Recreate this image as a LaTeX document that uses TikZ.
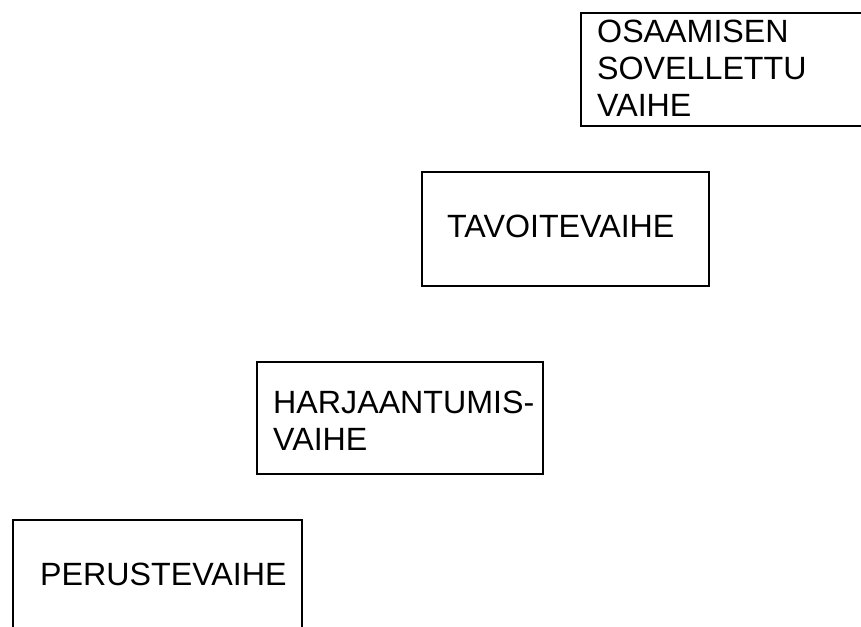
\documentclass[tikz,border=0pt]{standalone}
\usepackage{fontspec}
\setmainfont{Liberation Sans}
\begin{document}
\begin{tikzpicture}[x=1pt,y=-1pt,
  stagebox/.style={draw=black,line width=2.6pt},
  stagetext/.style={anchor=base west,inner sep=0pt,align=left,
    font=\fontsize{32.2}{37}\selectfont}]
\useasboundingbox (0,0) rectangle (861,626);
\clip (0,0) rectangle (861,626);
% stage boxes, rising from bottom left to top right
\draw[stagebox] (581,13) rectangle (880,126);
\draw[stagebox] (422,172) rectangle (709,286);
\draw[stagebox] (257,362) rectangle (543,474);
\draw[stagebox] (13,520) rectangle (302,650);
% stage names (multi-line nodes are placed by their last baseline)
\node[stagetext] (sovellettu) at (597,116) {OSAAMISEN\\SOVELLETTU\\VAIHE};
\node[stagetext] (tavoite) at (447,237) {TAVOITEVAIHE};
\node[stagetext] (harjaantumis) at (273,450) {HARJAANTUMIS-\\VAIHE};
\node[stagetext] (peruste) at (40,585) {PERUSTEVAIHE};
\end{tikzpicture}
\end{document}
